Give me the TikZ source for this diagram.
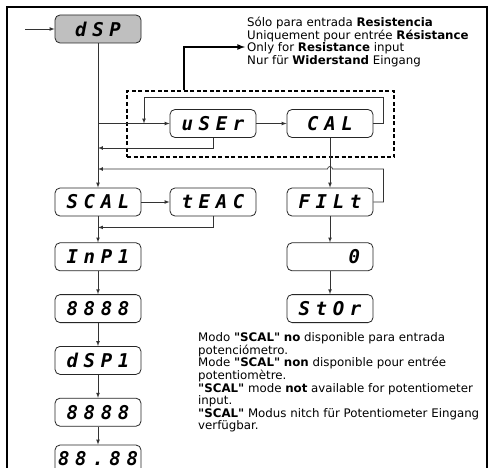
\documentclass[tikz,border=0pt]{standalone}
\usepackage{fontspec}
\setmainfont{DejaVu Sans}
\newfontfamily\segfont[LetterSpace=30]{DejaVu Sans Mono}
\usetikzlibrary{positioning}
\newcommand\qscal{\textbf{\textquotedbl SCAL\textquotedbl}}

\begin{document}
\begin{tikzpicture}[
  x=1pt, y=1pt,
  node distance=23pt,
  disp/.style={
    draw=black!85,
    rounded corners=5pt,
    minimum width=86pt,
    minimum height=28pt,
    inner sep=0pt,
    line width=0.8pt,
    font=\segfont\bfseries\itshape\fontsize{19}{19}\selectfont
  },
  arrow/.style={-latex, line width=0.7pt, draw=black!80},
  bigarrow/.style={-latex, line width=1.6pt},
  group/.style={draw, dash pattern=on 4pt off 2.5pt, line width=1.1pt, inner sep=0pt},
  note/.style={align=left, inner sep=0pt, anchor=north west,
    font=\fontsize{11.8}{10}\selectfont}
]
\useasboundingbox (0,0) rectangle (494,467);
\clip (0,0) rectangle (494,467);
\fill[white] (0,0) rectangle (494,467);
\draw[line width=2pt] (7,-20) |- (487,460) -- (487,-20);

\node[disp, fill=black!25] (dsp) at (98,438) {dSP};
\node[disp] (user) at (213,343.5) {uSEr};
\node[disp] (cal) at (330,343.5) {CAL};
\node[disp] (scal) at (98,265) {SCAL};
\node[disp] (teac) at (213,265) {tEAC};
\node[disp] (filt) at (330,265) {FILt};
\node[disp, below=26pt of scal] (inp) {InP1};
\node[disp, below=of inp] (lowA) {8888};
\node[disp, below=of lowA] (dspi) {dSP1};
\node[disp, below=of dspi] (lowB) {8888};
\node[disp, below=18pt of lowB] (dec) {88.88};
\node[disp, below=26pt of filt, text width=60pt, align=right] (zero) {0};
\node[disp, below=of zero] (stor) {StOr};

\node[group, minimum width=267pt, minimum height=66pt] (grp) at (260.5,343) {};

\node[note] (only) at (247,450) {Sólo para entrada \textbf{Resistencia}\\
Uniquement pour entrée \textbf{Résistance}\\
Only for \textbf{Resistance} input\\
Nur für \textbf{Widerstand} Eingang};
\node[note] (nota) at (198,135) {Modo \qscal{} \textbf{no} disponible para entrada\\
potenciómetro.\\
Mode \qscal{} \textbf{non} disponible pour entrée\\
potentiomètre.\\
\qscal{} mode \textbf{not} available for potentiometer\\
input.\\
\qscal{} Modus nitch für Potentiometer Eingang\\
verfügbar.};

\coordinate (entry) at (25,438);
\coordinate (up) at ([xshift=-76.5pt]grp.north);
\coordinate (tip) at (245,420);
\coordinate (userIn) at (dsp.south |- user.west);
\coordinate (calBack) at ([xshift=46pt]userIn);
\coordinate (userBack) at ([yshift=-24.5pt]userIn);
\coordinate (filtBack) at ([yshift=-45.5pt]userIn);
\coordinate (hop) at (cal.south |- filtBack);
\coordinate (teacBack) at ([yshift=-11pt]scal.south);

\draw[arrow] (entry) -- (dsp);
\draw[bigarrow] (up) |- (tip);
\draw[arrow] (dsp) -- (scal);
\draw[arrow] (userIn) -- (user);
\draw[arrow] (user) -- (cal);
\draw[arrow] (cal.east) -- ++(10,0) |- ([yshift=26.5pt]calBack) -- (calBack);
\draw[arrow] (user.south) |- (userBack);
\draw[arrow] (cal) -- (filt);
\draw[arrow] (filt.east) -- ++(10,0) |- ([xshift=2.5pt]hop)
  arc[start angle=0, end angle=180, radius=2.5pt] -- (filtBack);
\draw[arrow] (scal) -- (teac);
\draw[arrow] (teac.south) |- (teacBack);
\draw[arrow] (scal) -- (inp);
\draw[arrow] (inp) -- (lowA);
\draw[arrow] (lowA) -- (dspi);
\draw[arrow] (dspi) -- (lowB);
\draw[arrow] (lowB) -- (dec);
\draw[arrow] (filt) -- (zero);
\draw[arrow] (zero) -- (stor);
\end{tikzpicture}
\end{document}
